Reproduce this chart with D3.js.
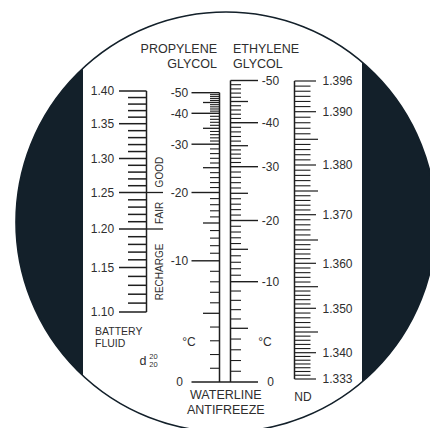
<!DOCTYPE html>
<html>
<head>
<meta charset="utf-8">
<script src="https://cdn.jsdelivr.net/npm/d3@7"></script>
<style>
body { margin: 0; background: #fff; }
text { font-family: "Liberation Sans", Arial, sans-serif; fill: #2e2e2e; }
</style>
</head>
<body>
<script>
var width = 430, height = 428;

// battery fluid, d 20/20
var batteryLabels = [1.10, 1.15, 1.20, 1.25, 1.30, 1.35, 1.40];
var batteryBounds = [1.20, 1.25];
var batteryZones = [
    {name: "GOOD", at: 1.28},
    {name: "FAIR", at: 1.222},
    {name: "RECHARGE", at: 1.145}
];
// propylene / ethylene glycol, °C
var glycolLabels = [0, -10, -20, -30, -40, -50];
var glycolMid = [-5, -15, -25, -35, -45];
// refractive index
var ndLabels = [1.333, 1.340, 1.350, 1.360, 1.370, 1.380, 1.390, 1.396];
var ndMid = [1.345, 1.355, 1.365, 1.375, 1.385];

// the reticle is not linear, so each scale is calibrated piecewise
var glycolSteps = [0, -5, -10, -15, -20, -25, -30, -35, -40, -45, -50];
var yBat = d3.scaleLinear().domain(batteryLabels)
    .range([312, 267.5, 229, 192.5, 158.5, 123.7, 91]);
var yPG = d3.scaleLinear().domain(glycolSteps)
    .range([382, 313.3, 260.8, 223, 192.5, 167.7, 144.2, 128.3, 113.3, 102.5, 92.7]);
var yEG = d3.scaleLinear().domain(glycolSteps)
    .range([382, 328.3, 281.7, 249.3, 220.5, 193.3, 166.7, 145.7, 122.7, 101.5, 80.5]);
var ndSteps = [1.333, 1.340, 1.345, 1.350, 1.355, 1.360, 1.365, 1.370, 1.375, 1.380, 1.385, 1.390, 1.396];
var yND = d3.scaleLinear().domain(ndSteps)
    .range([379, 352.7, 332, 308.3, 286.7, 263.3, 240, 214.7, 191, 165, 139.3, 111.7, 81]);

var ink = "#1e1e1e";
var cx = 226, cy = 222, r = 210;

var svg = d3.select("body").append("svg")
    .attr("width", width).attr("height", height);

svg.append("rect").attr("width", width).attr("height", height).attr("fill", "#fff");
svg.append("circle").attr("cx", cx).attr("cy", cy).attr("r", r).attr("fill", "#13202a");
svg.append("clipPath").attr("id", "lens").append("circle").attr("cx", cx).attr("cy", cy).attr("r", r);
svg.append("rect").attr("x", 83).attr("y", 0).attr("width", 279).attr("height", height)
    .attr("fill", "#fff").attr("clip-path", "url(#lens)");
svg.append("circle").attr("cx", cx).attr("cy", cy).attr("r", r)
    .attr("fill", "none").attr("stroke", "#13202a").attr("stroke-width", 1.6);

var g = svg.append("g").attr("stroke", ink);

function ticks(vals, y, x1, x2, w) {
    g.append("g").selectAll("line").data(vals).enter().append("line")
        .attr("x1", x1).attr("x2", x2)
        .attr("y1", function(d) { return y(d); })
        .attr("y2", function(d) { return y(d); })
        .attr("stroke-width", w || 1.2);
}
function labels(vals, y, x, fmt) {
    svg.append("g").selectAll("text").data(vals).enter().append("text")
        .attr("x", x).attr("y", function(d) { return y(d); })
        .attr("dy", "0.36em").attr("text-anchor", "middle")
        .style("font-size", "12px")
        .text(fmt);
}
function vline(x, y1, y2) {
    g.append("line").attr("x1", x).attr("x2", x).attr("y1", y1).attr("y2", y2).attr("stroke-width", 1.5);
}

// battery scale
var batAll = d3.range(110, 141).map(function(i) { return i / 100; });
var batMinor = batAll.filter(function(d) { return Math.round(d * 100) % 5 != 0; });
vline(146.5, yBat(1.40), yBat(1.10));
ticks(batMinor, yBat, 128, 146.5, 1.5);
ticks(batteryLabels, yBat, 119, 146.5, 1.5);
ticks(batteryBounds, yBat, 146.5, 163, 1.3);
labels(batteryLabels, yBat, 102.5, function(d) { return d.toFixed(2); });
svg.append("g").selectAll("text").data(batteryZones).enter().append("text")
    .attr("transform", function(d) { return "translate(159," + yBat(d.at) + ") rotate(-90)"; })
    .attr("text-anchor", "middle").attr("dy", "0.36em")
    .style("font-size", "10px")
    .text(function(d) { return d.name; });

// glycol scales
var glyAll = d3.range(-50, 1);
var glyMinor = glyAll.filter(function(d) { return d % 5 != 0; });
vline(219.5, yPG(-50), yPG(0));
vline(230.5, yEG(-50), yEG(0));
ticks(glyMinor, yPG, 210, 219.5, 1.1);
ticks(glycolMid, yPG, 203, 219.5, 1.3);
ticks(glycolLabels.filter(function(d) { return d != 0; }), yPG, 191.5, 219.5, 1.4);
ticks(glyMinor, yEG, 230.5, 241, 1.1);
ticks(glycolMid, yEG, 230.5, 248, 1.3);
ticks(glycolLabels.filter(function(d) { return d != 0; }), yEG, 230.5, 258, 1.4);
ticks([0], yPG, 191.5, 258, 1.5);
labels(glycolLabels, yPG, 179.5, function(d) { return d; });
labels(glycolLabels, yEG, 270.5, function(d) { return d; });

// refractive index scale
var ndAll = d3.range(1333, 1397).map(function(i) { return i / 1000; });
var ndMinor = ndAll.filter(function(d) {
    return ndLabels.concat(ndMid).every(function(v) { return Math.abs(v - d) > 1e-6; });
});
vline(294.5, yND(1.396), yND(1.333));
ticks(ndMinor, yND, 294.5, 310.5, 1.1);
ticks(ndMid, yND, 294.5, 318, 1.2);
ticks(ndLabels, yND, 294.5, 316, 1.2);
labels(ndLabels, yND, 337.5, function(d) { return d.toFixed(3); });

// titles and units
function txt(x, y, s, size, anchor) {
    return svg.append("text").attr("x", x).attr("y", y).attr("text-anchor", anchor || "start")
        .style("font-size", size + "px").text(s);
}
txt(217, 52.5, "PROPYLENE", 12.5, "end");
txt(217, 68, "GLYCOL", 12.5, "end");
txt(233, 52.5, "ETHYLENE", 12.5);
txt(233, 68, "GLYCOL", 12.5);
txt(225.8, 398.5, "WATERLINE", 12.5, "middle");
txt(225.8, 414, "ANTIFREEZE", 12.5, "middle");
txt(303, 401, "ND", 12, "middle");
txt(189, 346, "°C", 12, "middle");
txt(265, 346, "°C", 12, "middle");
txt(95, 335, "BATTERY", 10.5);
txt(95, 347, "FLUID", 10.5);
txt(139.5, 364.5, "d", 12.5);
txt(153.5, 358.5, "20", 7.5, "middle");
txt(153.5, 366.5, "20", 7.5, "middle");
</script>
</body>
</html>
